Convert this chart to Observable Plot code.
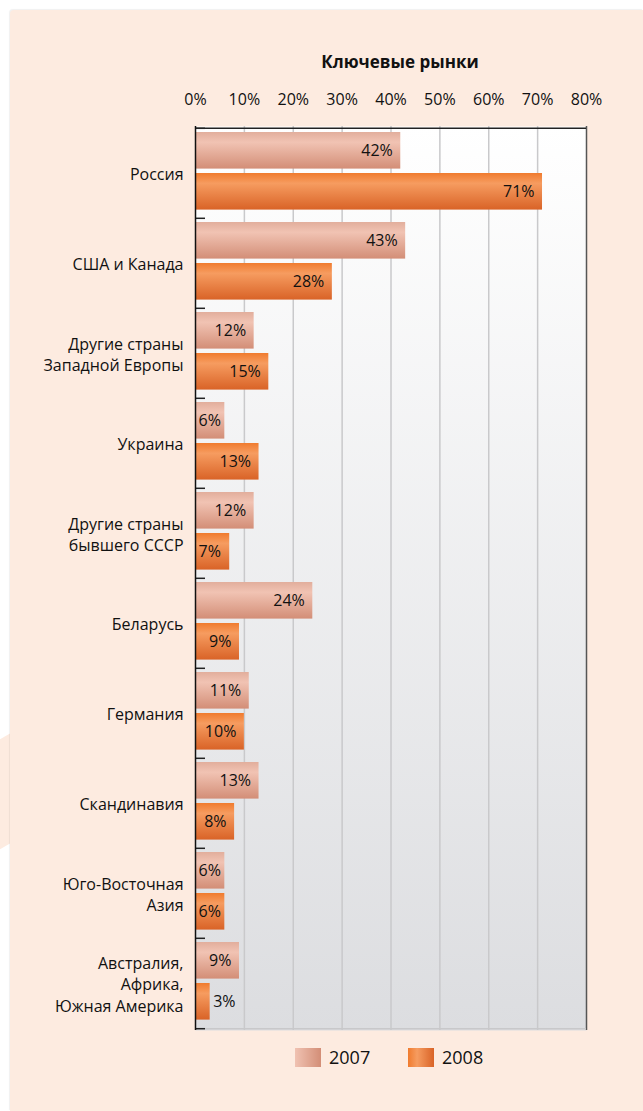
<!DOCTYPE html>
<html>
<head>
<meta charset="utf-8">
<script src="https://cdn.jsdelivr.net/npm/d3@7"></script>
<script src="https://cdn.jsdelivr.net/npm/@observablehq/plot@0.6"></script>
<style>
  html, body { margin: 0; padding: 0; background: #ffffff; }
  #page { position: relative; width: 643px; height: 1111px; overflow: hidden; font-family: "Open Sans", sans-serif; }
  #shape { position: absolute; left: -40px; top: 745px; width: 60px; height: 110px; background: #fdebe0; transform: skewY(-30deg); }
  #panel { position: absolute; left: 10px; top: 10px; right: 0; bottom: 0; background: #fdebe0; border-top-left-radius: 4px; box-shadow: -1px -1px 1px rgba(0,0,0,0.06); }
  #title { position: absolute; left: 300px; width: 200px; top: 50px; text-align: center; font-weight: bold; font-size: 17px; color: #111; }
  #chart { position: absolute; left: 0; top: 78px; }
  #legend { position: absolute; top: 1045px; left: 0; width: 643px; font-size: 18px; color: #111; }
  .sw { position: absolute; top: 3px; width: 26px; height: 19px; }
  .lt { position: absolute; top: 0; line-height: 24px; }
</style>
</head>
<body>
<div id="page">
  <div id="shape"></div>
  <div id="panel"></div>
  <div id="title">Ключевые рынки</div>
  <div id="chart"></div>
  <div id="legend"></div>
</div>
<script>
const categories = [
  "Россия",
  "США и Канада",
  "Другие страны\nЗападной Европы",
  "Украина",
  "Другие страны\nбывшего СССР",
  "Беларусь",
  "Германия",
  "Скандинавия",
  "Юго-Восточная\nАзия",
  "Австралия,\nАфрика,\nЮжная Америка"
];
const years = ["2007", "2008"];
const values2007 = [42, 43, 12, 6, 12, 24, 11, 13, 6, 9];
const values2008 = [71, 28, 15, 13, 7, 9, 10, 8, 6, 3];
const xTicks = [0, 10, 20, 30, 40, 50, 60, 70, 80];

const d07 = categories.map((c, i) => ({category: c, year: "2007", value: values2007[i]}));
const d08 = categories.map((c, i) => ({category: c, year: "2008", value: values2008[i]}));

const W = 643, mL = 195, mR = 57, mT = 48, mB = 4, H = 956;
const band = (H - mT - mB) / categories.length;
const barH = 37;
const top07 = 4, top08 = 45;
const font = "Open Sans, sans-serif";
const fs = 16;

function labelMarks(data, topOff) {
  const dy = topOff + barH / 2 - band / 2;
  return [
    Plot.text(data.filter(d => d.value >= 8), {x: "value", y: "category", text: d => d.value + "%", textAnchor: "end", dx: -8, dy, fontSize: fs, fill: "#111"}),
    Plot.text(data.filter(d => d.value >= 5 && d.value < 8), {x: 0, y: "category", text: d => d.value + "%", textAnchor: "start", dx: 3, dy, fontSize: fs, fill: "#111"}),
    Plot.text(data.filter(d => d.value < 5), {x: "value", y: "category", text: d => d.value + "%", textAnchor: "start", dx: 3, dy, fontSize: fs, fill: "#111"})
  ];
}

const chart = Plot.plot({
  width: W, height: H,
  marginLeft: mL, marginRight: mR, marginTop: mT, marginBottom: mB,
  style: {fontFamily: font, background: "transparent", overflow: "visible"},
  x: {domain: [0, 80], axis: null, label: null},
  y: {domain: categories, padding: 0, axis: null, label: null},
  marks: [
    Plot.frame({fill: "url(#bgGrad)"}),
    Plot.ruleX(xTicks.slice(1, -1), {stroke: "#c9c9cb", strokeWidth: 1.5}),
    Plot.axisX({anchor: "top", ticks: xTicks, tickSize: 0, tickPadding: 22, tickFormat: d => d + "%", fontSize: fs, fill: "#111", label: null}),
    Plot.barX(d07, {x: "value", y: "category", fill: "url(#g07)", insetTop: top07, insetBottom: band - top07 - barH}),
    Plot.barX(d08, {x: "value", y: "category", fill: "url(#g08)", insetTop: top08, insetBottom: band - top08 - barH}),
    ...labelMarks(d07, top07),
    ...labelMarks(d08, top08),
    Plot.ruleX([80], {stroke: "#555", strokeWidth: 1.5}),
    Plot.ruleY([0], {y: () => categories[0], dy: -band / 2, stroke: "#222", strokeWidth: 1.5}),
    Plot.ruleY([0], {y: () => categories[categories.length - 1], dy: band / 2, stroke: "#c8c8ca", strokeWidth: 1.5}),
    Plot.tickY(categories, {y: d => d, dy: -band / 2, stroke: "#222", strokeWidth: 1.5, insetRight: W - mL - mR - 10}),
    Plot.tickY([categories[categories.length - 1]], {y: d => d, dy: band / 2, stroke: "#222", strokeWidth: 1.5, insetRight: W - mL - mR - 10}),
    Plot.ruleX([0], {stroke: "#111", strokeWidth: 1.5}),
    Plot.text(categories, {y: d => d, frameAnchor: "left", textAnchor: "end", dx: -12, fontSize: fs, lineHeight: 1.33, fill: "#111"})
  ]
});

const ns = "http://www.w3.org/2000/svg";
const defs = document.createElementNS(ns, "defs");
defs.innerHTML = `
  <linearGradient id="bgGrad" x1="0" y1="0" x2="0" y2="1">
    <stop offset="0" stop-color="#ffffff"/>
    <stop offset="1" stop-color="#dcdde0"/>
  </linearGradient>
  <linearGradient id="g07" x1="0" y1="0" x2="0" y2="1">
    <stop offset="0" stop-color="#e2ae9c"/>
    <stop offset="0.28" stop-color="#f1c3b3"/>
    <stop offset="1" stop-color="#d38e77"/>
  </linearGradient>
  <linearGradient id="g08" x1="0" y1="0" x2="0" y2="1">
    <stop offset="0" stop-color="#f07b2e"/>
    <stop offset="0.28" stop-color="#f69c60"/>
    <stop offset="1" stop-color="#d96327"/>
  </linearGradient>`;
chart.insertBefore(defs, chart.firstChild);
document.getElementById("chart").appendChild(chart);

const legendColors = {
  "2007": "linear-gradient(to right, #f0c2b2, #d38e77)",
  "2008": "linear-gradient(to right, #f07b2e, #f69c60 35%, #d96327)"
};
const legendX = {"2007": 295, "2008": 408};
const legend = document.getElementById("legend");
years.forEach(y => {
  const sw = document.createElement("div");
  sw.className = "sw";
  sw.style.left = legendX[y] + "px";
  sw.style.background = legendColors[y];
  legend.appendChild(sw);
  const t = document.createElement("div");
  t.className = "lt";
  t.style.left = (legendX[y] + 34) + "px";
  t.textContent = y;
  legend.appendChild(t);
});
</script>
</body>
</html>
